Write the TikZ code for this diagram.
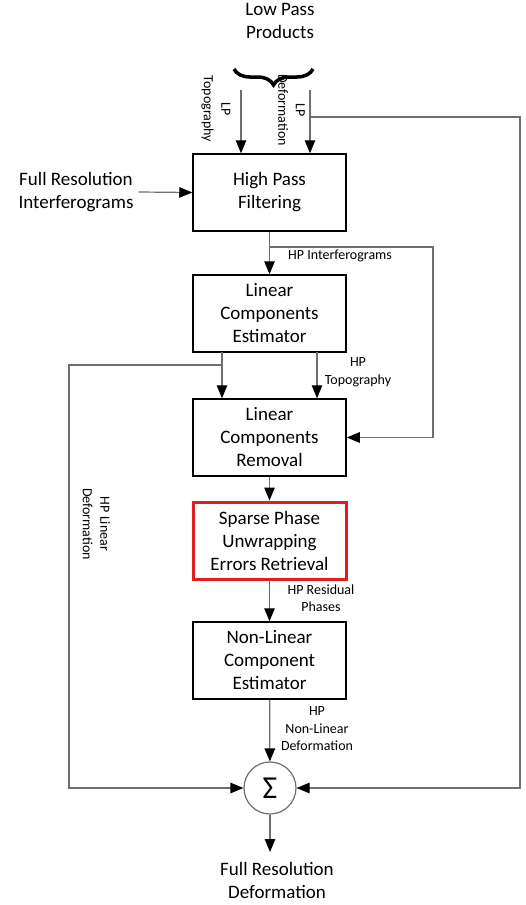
\documentclass[tikz,border=0pt]{standalone}
\usepackage{fontspec}
\setmainfont{Carlito}
\usetikzlibrary{arrows.meta,decorations.pathreplacing}
\definecolor{linegray}{HTML}{6E6E6E}
\definecolor{boxred}{HTML}{E01E1E}
\tikzset{
  box/.style={draw=black, line width=1.5pt, minimum width=153pt, minimum height=77pt,
    align=center, inner sep=0pt, font=\fontsize{19}{23}\selectfont},
  redbox/.style={box, draw=boxred, line width=3pt},
  lbl/.style={align=center, inner sep=0pt, font=\fontsize{14}{17.5}\selectfont},
  big/.style={align=center, inner sep=0pt, font=\fontsize{19}{23}\selectfont},
  conn/.style={draw=linegray, line width=1.2pt},
  arr/.style={conn, -{Triangle[length=13pt,width=10.5pt,color=black]}},
}
\begin{document}
\begin{tikzpicture}[x=1pt,y=-1pt]
\useasboundingbox (0,0) rectangle (526,905);

% boxes
\node[box] (hpf) at (269.5,192.5) {High Pass\\Filtering};
\node[box] (lce) at (269.5,313.5) {Linear\\Components\\Estimator};
\node[box] (lcr) at (269.5,437.5) {Linear\\Components\\Removal};
\node[redbox] (spu) at (269.5,540.5) {Sparse Phase\\Unwrapping\\Errors Retrieval};
\node[box] (nlc) at (269.5,660.5) {Non-Linear\\Component\\Estimator};
\node[circle, draw=linegray, line width=1.2pt, minimum size=52pt, inner sep=0pt,
      font=\fontsize{32}{32}\selectfont] (sum) at (270,788) {Σ};

% texts
\node[big] (lpp) at (280,21) {Low Pass\\Products};
\node[big] (fri) at (76,192) {Full Resolution\\Interferograms};
\node[big] (frd) at (277,880) {Full Resolution\\Deformation};
\node[lbl, rotate=-90] (lptl) at (216,109) {LP\\Topography};
\node[lbl, rotate=-90] (lpdl) at (291.5,110) {LP\\Deformation};
\node[lbl, rotate=-90] (hpld) at (96.5,524) {HP Linear\\Deformation};
\node[lbl] (hpi) at (340,256) {HP Interferograms};
\node[lbl] (hpt) at (358,372) {HP\\Topography};
\node[lbl] (hpr) at (321,598) {HP Residual\\Phases};
\node[lbl] (hpn) at (317,729) {HP\\Non-Linear\\Deformation};

% brace
\draw[line width=3.5pt, decorate, decoration={brace, amplitude=16pt}]
  (313,69) -- (234,69);

% coordinates
\coordinate (lpt) at (241,90);
\coordinate (lpd) at (310,90);
\coordinate (rt) at (520,117);
\coordinate (j1) at (269.5,247);
\coordinate (rl) at (433,247);
\coordinate (a1) at (222,352);
\coordinate (a2) at (317,352);
\coordinate (j2) at (222,365);
\coordinate (ll) at (69,365);
\coordinate (out) at (270,852);

% connectors
\draw[arr] (lpt) -- (lpt |- hpf.north);
\draw[arr] (lpd) -- (lpd |- hpf.north);
\draw[arr] (lpd |- rt) -- (rt) |- (sum.east);
\draw[arr] (fri.east) ++(5,0) -- (hpf.west);
\draw[arr] (hpf) -- (lce);
\draw[arr] (j1) -- (rl) |- (lcr.east);
\draw[arr] (a1) -- (a1 |- lcr.north);
\draw[arr] (a2) -- (a2 |- lcr.north);
\draw[arr] (j2) -- (ll) |- (sum.west);
\draw[arr] (lcr) -- (spu);
\draw[arr] (spu) -- (nlc);
\draw[arr] (nlc) -- (sum);
\draw[arr] (sum) -- (out);
\end{tikzpicture}
\end{document}
